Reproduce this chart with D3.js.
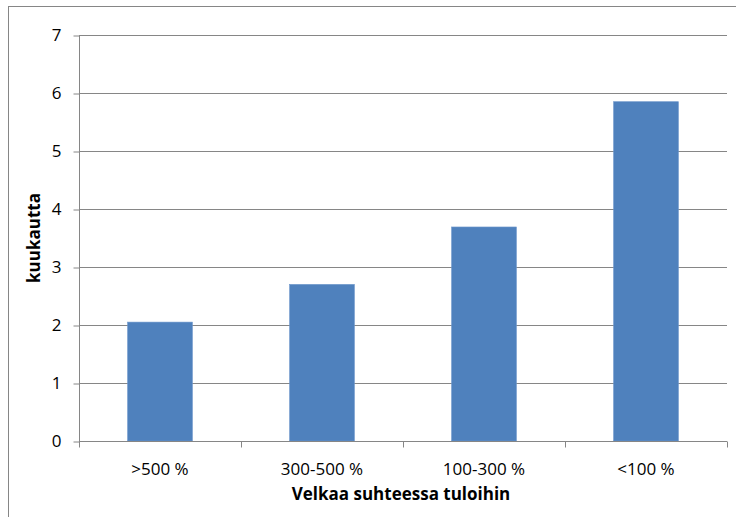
<!DOCTYPE html>
<html>
<head>
<meta charset="utf-8">
<script src="https://cdn.jsdelivr.net/npm/d3@7"></script>
<style>
  html, body { margin: 0; padding: 0; background: #fff; }
  svg { display: block; }
  text { font-family: "Open Sans", sans-serif; fill: #000; }
</style>
</head>
<body>
<svg id="chart" width="736" height="517"></svg>
<script>
// Debt-to-income groups and months of buffer per group
const categories = [">500 %", "300-500 %", "100-300 %", "<100 %"];
const values = [2.05, 2.70, 3.69, 5.85];
const yTicks = [0, 1, 2, 3, 4, 5, 6, 7];
const xTitle = "Velkaa suhteessa tuloihin";
const yTitle = "kuukautta";

const svg = d3.select("#chart");
const W = 736, H = 517;
const plot = { left: 79, right: 727, top: 35, bottom: 441 };
const FONT = "'Open Sans', sans-serif";

// outer chart frame (cropped at right and bottom)
svg.append("rect")
  .attr("x", 8.5).attr("y", 6.5)
  .attr("width", W + 10).attr("height", H + 10)
  .attr("fill", "none").attr("stroke", "#868686").attr("stroke-width", 1);

const x = d3.scaleBand()
  .domain(categories)
  .range([plot.left, plot.right])
  .paddingInner(0.6)
  .paddingOuter(0.3);

const y = d3.scaleLinear()
  .domain([0, 7])
  .range([plot.bottom, plot.top]);

// horizontal gridlines
svg.append("g")
  .selectAll("line")
  .data(yTicks.filter(d => d > 0))
  .join("line")
  .attr("x1", plot.left).attr("x2", plot.right)
  .attr("y1", d => Math.round(y(d)) + 0.5)
  .attr("y2", d => Math.round(y(d)) + 0.5)
  .attr("stroke", "#868686").attr("stroke-width", 1);

// bars
svg.append("g")
  .selectAll("rect")
  .data(values)
  .join("rect")
  .attr("x", (d, i) => x(categories[i]))
  .attr("y", d => y(d))
  .attr("width", x.bandwidth())
  .attr("height", d => y(0) - y(d))
  .attr("fill", "#4F81BD")
  .attr("stroke", "#6D96CB").attr("stroke-width", 0.6);

// y axis
const yAxis = d3.axisLeft(y)
  .tickValues(yTicks)
  .tickFormat(d3.format("d"))
  .tickSize(6)
  .tickPadding(12);
const gy = svg.append("g")
  .attr("transform", `translate(${plot.left + 0.5},0.5)`)
  .call(yAxis);
gy.select(".domain").attr("stroke", "#868686").attr("d", `M0,${plot.top}V${plot.bottom}`);
gy.selectAll(".tick line").attr("stroke", "#868686");
gy.selectAll(".tick text").attr("font-size", 17).attr("font-family", FONT).attr("fill", "#000");

// x axis: ticks on category boundaries
const gx = svg.append("g").attr("transform", `translate(0,${plot.bottom + 0.5})`);
gx.append("line")
  .attr("x1", plot.left).attr("x2", plot.right)
  .attr("stroke", "#868686");
const bounds = categories.map((c, i) => plot.left + i * x.step());
bounds.push(plot.right);
gx.selectAll("line.tk")
  .data(bounds)
  .join("line").attr("class", "tk")
  .attr("x1", d => Math.round(d) + 0.5).attr("x2", d => Math.round(d) + 0.5)
  .attr("y1", 0).attr("y2", 6)
  .attr("stroke", "#868686");
gx.selectAll("text")
  .data(categories)
  .join("text")
  .attr("x", d => x(d) + x.bandwidth() / 2)
  .attr("y", 33)
  .attr("text-anchor", "middle")
  .attr("font-size", 17)
  .text(d => d);

// axis titles
svg.append("text")
  .attr("x", (plot.left + plot.right) / 2 - 2)
  .attr("y", 500)
  .attr("text-anchor", "middle")
  .attr("font-size", 17)
  .attr("font-weight", "bold")
  .text(xTitle);

svg.append("text")
  .attr("transform", `translate(40,${(plot.top + plot.bottom) / 2}) rotate(-90)`)
  .attr("text-anchor", "middle")
  .attr("font-size", 17)
  .attr("font-weight", "bold")
  .text(yTitle);
</script>
</body>
</html>
